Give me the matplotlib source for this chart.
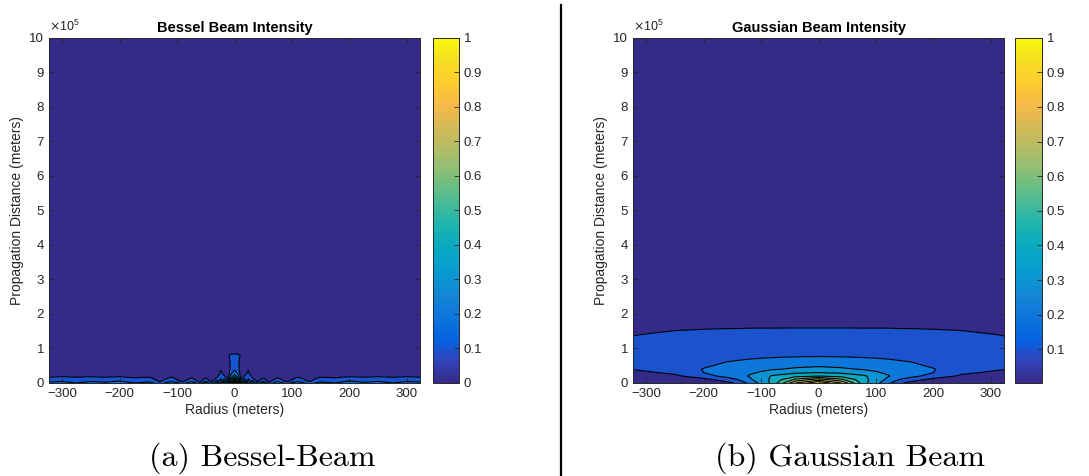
import numpy as np
import matplotlib
matplotlib.use("Agg")
import matplotlib.pyplot as plt
from matplotlib.colors import LinearSegmentedColormap, Normalize
from matplotlib.cm import ScalarMappable
from matplotlib.ticker import FuncFormatter

# ---- Bessel beam intensity (half profile, mirrored about r = 0) ----
bessel_radius = [0, 6, 12, 18, 24, 30, 40, 50, 60, 75, 90, 110, 130, 150, 175, 200, 225, 250, 275, 300, 323]
bessel_distance = [0, 5e3, 1e4, 1.5e4, 2.5e4, 4e4, 6e4, 8e4, 9e4, 1e6]
bessel_intensity = [
    [1.00, 0.60, 0.20, 0.50, 0.15, 0.40, 0.10, 0.35, 0.12, 0.30, 0.15, 0.30, 0.15, 0.25, 0.20, 0.30, 0.22, 0.28, 0.20, 0.30, 0.25],
    [0.80, 0.50, 0.15, 0.35, 0.10, 0.25, 0.08, 0.20, 0.07, 0.18, 0.08, 0.17, 0.09, 0.16, 0.14, 0.21, 0.17, 0.19, 0.15, 0.18, 0.17],
    [0.60, 0.40, 0.10, 0.25, 0.08, 0.15, 0.05, 0.13, 0.06, 0.13, 0.07, 0.13, 0.08, 0.13, 0.12, 0.15, 0.14, 0.15, 0.13, 0.14, 0.14],
    [0.45, 0.30, 0.06, 0.15, 0.12, 0.11, 0.04, 0.10, 0.05, 0.10, 0.06, 0.11, 0.07, 0.11, 0.10, 0.12, 0.11, 0.12, 0.11, 0.12, 0.11],
    [0.30, 0.20, 0.03, 0.08, 0.13, 0.05, 0.02, 0.04, 0.02, 0.04, 0.03, 0.05, 0.03, 0.05, 0.05, 0.06, 0.05, 0.06, 0.05, 0.06, 0.05],
    [0.18, 0.13, 0.04, 0.03, 0.09, 0.02, 0.01, 0.01, 0.01, 0.01, 0.01, 0.01, 0.01, 0.01, 0.01, 0.01, 0.01, 0.01, 0.01, 0.01, 0.01],
    [0.16, 0.12, 0.05, 0.02, 0.02, 0.01, 0.01, 0.01, 0.01, 0.01, 0.01, 0.01, 0.01, 0.01, 0.01, 0.01, 0.01, 0.01, 0.01, 0.01, 0.01],
    [0.14, 0.13, 0.08, 0.02, 0.01, 0.01, 0.01, 0.01, 0.01, 0.01, 0.01, 0.01, 0.01, 0.01, 0.01, 0.01, 0.01, 0.01, 0.01, 0.01, 0.01],
    [0.05, 0.04, 0.02, 0.01, 0.01, 0.01, 0.01, 0.01, 0.01, 0.01, 0.01, 0.01, 0.01, 0.01, 0.01, 0.01, 0.01, 0.01, 0.01, 0.01, 0.01],
    [0.00, 0.00, 0.00, 0.00, 0.00, 0.00, 0.00, 0.00, 0.00, 0.00, 0.00, 0.00, 0.00, 0.00, 0.00, 0.00, 0.00, 0.00, 0.00, 0.00, 0.00],
]

# ---- Gaussian beam intensity (half profile, mirrored about r = 0) ----
gauss_radius = [0, 40, 80, 100, 120, 140, 160, 200, 250, 323]
gauss_distance = [0, 1e4, 2e4, 3e4, 4e4, 6e4, 8e4, 1.2e5, 1.4e5, 1.6e5, 2e5, 4e5, 1e6]
gauss_intensity = [
    [1.00, 0.80, 0.43, 0.33, 0.23, 0.12, 0.07, 0.05, 0.03, 0.02],
    [0.75, 0.62, 0.42, 0.36, 0.28, 0.20, 0.15, 0.07, 0.05, 0.04],
    [0.50, 0.47, 0.41, 0.36, 0.31, 0.26, 0.23, 0.16, 0.08, 0.05],
    [0.40, 0.385, 0.36, 0.31, 0.285, 0.26, 0.24, 0.20, 0.12, 0.07],
    [0.33, 0.315, 0.29, 0.28, 0.265, 0.25, 0.235, 0.205, 0.14, 0.105],
    [0.25, 0.245, 0.235, 0.228, 0.22, 0.21, 0.202, 0.17, 0.135, 0.12],
    [0.19, 0.188, 0.183, 0.18, 0.177, 0.173, 0.17, 0.16, 0.14, 0.125],
    [0.135, 0.134, 0.133, 0.132, 0.131, 0.13, 0.129, 0.127, 0.122, 0.108],
    [0.117, 0.117, 0.116, 0.116, 0.116, 0.115, 0.115, 0.114, 0.11, 0.098],
    [0.0995, 0.0995, 0.099, 0.099, 0.099, 0.098, 0.098, 0.096, 0.093, 0.085],
    [0.075, 0.075, 0.074, 0.074, 0.074, 0.073, 0.073, 0.072, 0.07, 0.065],
    [0.020, 0.020, 0.020, 0.020, 0.020, 0.020, 0.020, 0.019, 0.019, 0.018],
    [0.004, 0.004, 0.004, 0.004, 0.004, 0.004, 0.004, 0.004, 0.003, 0.003],
]

contour_levels = [0.1, 0.2, 0.3, 0.4, 0.5, 0.6, 0.7, 0.8, 0.9]
xticks = [-300, -200, -100, 0, 100, 200, 300]
yticks = [0, 1e5, 2e5, 3e5, 4e5, 5e5, 6e5, 7e5, 8e5, 9e5, 1e6]

# MATLAB parula (sampled)
parula = LinearSegmentedColormap.from_list("parula", [
    (0.2081, 0.1663, 0.5292), (0.1959, 0.2645, 0.7279), (0.0117, 0.3875, 0.8820),
    (0.0498, 0.4586, 0.8641), (0.0793, 0.5200, 0.8312), (0.0343, 0.5966, 0.8199),
    (0.0228, 0.6535, 0.7768), (0.0843, 0.6928, 0.7062), (0.2178, 0.7250, 0.6193),
    (0.3953, 0.7459, 0.5244), (0.5709, 0.7485, 0.4494), (0.7184, 0.7411, 0.3905),
    (0.8507, 0.7299, 0.3360), (0.9739, 0.7314, 0.2666), (0.9880, 0.8066, 0.1794),
    (0.9626, 0.8705, 0.1309), (0.9763, 0.9831, 0.0538)], N=256)

plt.rcParams['font.family'] = ['Liberation Sans', 'DejaVu Sans']
GRAY = '#262626'


def mirror(radius, table):
    r = np.array(radius, dtype=float)
    v = np.array(table, dtype=float)
    r_full = np.concatenate([-r[:0:-1], r])
    v_full = np.concatenate([v[:, :0:-1], v], axis=1)
    return r_full, v_full


def draw_panel(fig, rect, cbrect, radius, distance, table, vmin, title, cbticks):
    ax = fig.add_axes(rect)
    r, v = mirror(radius, table)
    z = np.array(distance, dtype=float)
    norm = Normalize(vmin=vmin, vmax=1.0)
    fill_levels = [vmin] + contour_levels + [1.0001]
    # MATLAB colours each band with the value of its lower level
    band_colors = [parula(norm(lv)) for lv in fill_levels[:-1]]
    ax.contourf(r, z, v, levels=fill_levels, colors=band_colors)
    ax.contour(r, z, v, levels=contour_levels, colors='k', linewidths=0.8)
    ax.set_xlim(-323, 323)
    ax.set_ylim(0, 1e6)
    ax.set_xticks(xticks)
    ax.set_yticks(yticks)
    ax.yaxis.set_major_formatter(FuncFormatter(lambda val, pos: f"{val / 1e5:g}"))
    ax.tick_params(direction='in', top=True, right=True, length=3.5, width=0.6,
                   labelsize=9.5, colors=GRAY, labelcolor=GRAY)
    for sp in ax.spines.values():
        sp.set_color(GRAY)
        sp.set_linewidth(0.7)
    ax.set_xlabel("Radius (meters)", fontsize=10, color=GRAY, labelpad=2)
    ax.set_ylabel("Propagation Distance (meters)", fontsize=10, color=GRAY, labelpad=4)
    ax.set_title(title, fontsize=10.5, fontweight='bold', pad=4)
    ax.text(0.0, 1.012, r"$\times\mathregular{10^{5}}$", transform=ax.transAxes,
            fontsize=9, color=GRAY, ha='left', va='bottom')

    cax = fig.add_axes(cbrect)
    cb = fig.colorbar(ScalarMappable(norm=norm, cmap=parula), cax=cax, ticks=cbticks)
    cb.ax.set_yticklabels([f"{t:g}" for t in cbticks])
    cb.ax.tick_params(direction='in', length=3.5, width=0.6, labelsize=9.5,
                      colors=GRAY, labelcolor=GRAY)
    cb.outline.set_edgecolor(GRAY)
    cb.outline.set_linewidth(0.7)
    return ax


fig = plt.figure(figsize=(10.89, 4.76), dpi=100)

bessel_ticks = [0, 0.1, 0.2, 0.3, 0.4, 0.5, 0.6, 0.7, 0.8, 0.9, 1]
gauss_ticks = [0.1, 0.2, 0.3, 0.4, 0.5, 0.6, 0.7, 0.8, 0.9, 1]

draw_panel(fig, [0.0450, 0.1954, 0.3407, 0.7254], [0.3976, 0.1954, 0.0239, 0.7254],
           bessel_radius, bessel_distance, bessel_intensity, 0.0,
           "Bessel Beam Intensity", bessel_ticks)
draw_panel(fig, [0.5813, 0.1954, 0.3407, 0.7254], [0.9320, 0.1954, 0.0248, 0.7254],
           gauss_radius, gauss_distance, gauss_intensity, 0.003,
           "Gaussian Beam Intensity", gauss_ticks)

# sub-captions and divider, as in the LaTeX figure
fig.text(262 / 1089, 1 - 458 / 476, "(a) Bessel-Beam", fontfamily='cmr10',
         fontsize=23, ha='center', va='center')
fig.text(850 / 1089, 1 - 458 / 476, "(b) Gaussian Beam", fontfamily='cmr10',
         fontsize=23, ha='center', va='center')
fig.add_artist(plt.Line2D([561 / 1089, 561 / 1089], [0, 1 - 5 / 476],
                          color='k', linewidth=1.6))

fig.savefig("out.png", dpi=100, facecolor='white')
